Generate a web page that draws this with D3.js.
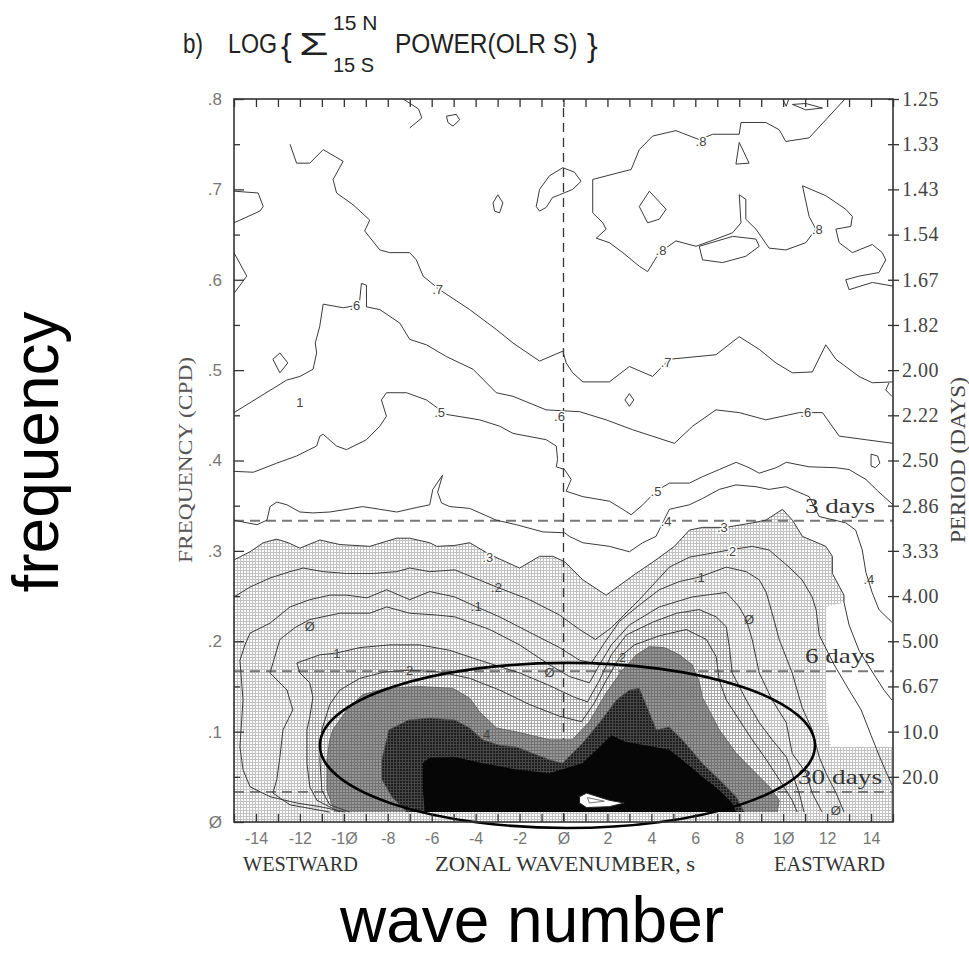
<!DOCTYPE html>
<html><head><meta charset="utf-8">
<script src="https://cdn.jsdelivr.net/npm/d3@7"></script>
<style>body{margin:0;background:#fff}svg{display:block}</style>
</head><body>
<svg id="chart" width="969" height="956"></svg>
<script>
// ---------- axis data ----------
const waveMinorTicks = [-15,-14,-13,-12,-11,-10,-9,-8,-7,-6,-5,-4,-3,-2,-1,0,1,2,3,4,5,6,7,8,9,10,11,12,13,14,15];
const waveTicks = [-14,-12,-10,-8,-6,-4,-2,0,2,4,6,8,10,12,14];
const waveTickLabels = ["-14","-12","-1Ø","-8","-6","-4","-2","Ø","2","4","6","8","1Ø","12","14"];
const freqTicks = [0,0.1,0.2,0.3,0.4,0.5,0.6,0.7,0.8];
const freqTickLabels = ["Ø",".1",".2",".3",".4",".5",".6",".7",".8"];
const freqMinorTicks = [0.05,0.15,0.25,0.35,0.45,0.55,0.65,0.75];
const periodFreqs = [0.05,0.1,0.15,0.2,0.25,0.3,0.35,0.4,0.45,0.5,0.55,0.6,0.65,0.7,0.75,0.8];
const periodLabels = ["20.0","10.0","6.67","5.00","4.00","3.33","2.86","2.50","2.22","2.00","1.82","1.67","1.54","1.43","1.33","1.25"];
const dayFreqs = [0.3333,0.1667,0.0333];
const dayLabels = ["3 days","6 days","30 days"];

// ---------- contour lines [wavenumber, frequency] ----------
const cM8 = [[12.85,.801],[11.94,.777],[11.18,.757],[10.12,.753],[9.82,.766],[9.21,.774],[8.08,.774],[8.0,.761],[6.79,.761],[6.18,.755],[5.12,.765],[4.06,.759],[3.45,.744],[3.08,.722],[1.33,.711],[1.33,.674],[1.79,.663],[1.94,.656],[1.49,.646],[2.09,.641],[2.70,.630],[3.45,.615],[3.83,.609],[4.36,.630],[5.12,.643],[6.03,.637],[6.94,.645],[7.70,.652],[8.08,.663],[8.0,.694],[8.30,.689],[8.30,.667],[8.76,.656],[9.36,.635],[10.12,.633],[11.03,.641],[11.49,.656],[11.18,.670],[10.88,.704],[11.94,.693],[12.85,.678],[13.15,.670],[13.08,.659],[12.40,.656],[12.55,.641],[13.15,.630],[14.06,.639],[14.51,.630],[14.67,.622],[14.36,.608],[13.45,.604],[12.85,.600],[13.0,.589],[14.06,.597],[15,.593]];
const cM8topU = [[9.95,.801],[10.14,.792],[10.27,.801]];
const cM8topArc = [[-7.3,.800],[-6.6,.789],[-6.45,.779],[-7.0,.768]];
const cM7 = [[-12.45,.750],[-12.15,.729],[-11.55,.729],[-10.94,.744],[-10.03,.731],[-10.49,.711],[-10.33,.696],[-9.58,.683],[-8.82,.666],[-9.05,.654],[-8.36,.633],[-7.91,.630],[-7.0,.630],[-6.7,.622],[-6.39,.604],[-5.64,.589],[-4.27,.567],[-3.06,.545],[-2.3,.530],[-1.09,.510],[-0.03,.521],[0.12,.508],[0.42,.497],[0.88,.487],[2.09,.487],[3.0,.504],[4.06,.493],[4.82,.512],[6.94,.517],[8.0,.537],[8.91,.523],[9.67,.508],[10.42,.497],[11.33,.498],[11.94,.528],[12.4,.512],[13.45,.493],[14.06,.486],[15,.487]];
const cM7lobeA = [[-15,.698],[-13.9,.696],[-13.67,.681],[-13.82,.676],[-15,.663]];
const cM7lobeB = [[-15,.630],[-14.42,.604],[-15,.585]];
const cM6 = [[-15,.453],[-12.6,.489],[-12.0,.493],[-11.4,.501],[-11.24,.519],[-11.3,.530],[-11.1,.548],[-10.94,.573],[-10.03,.569],[-9.3,.572],[-9.2,.596],[-8.97,.594],[-8.97,.570],[-8.36,.567],[-7.45,.552],[-7.0,.534],[-6.24,.528],[-5.33,.515],[-4.12,.501],[-3.06,.475],[-2.3,.471],[-1.39,.462],[-0.79,.456],[0.73,.454],[1.94,.445],[3.15,.434],[5.05,.419],[5.88,.438],[6.94,.456],[8.0,.453],[9.21,.445],[10.73,.453],[11.79,.453],[12.55,.427],[13.76,.423],[15,.419]];
const cM6edge = [[14.82,.486],[14.67,.478],[14.95,.471]];
const cM5 = [[-15,.388],[-14.12,.387],[-13.06,.397],[-12.15,.405],[-11.24,.416],[-11.09,.427],[-10.94,.429],[-10.33,.416],[-9.88,.412],[-8.97,.423],[-8.36,.438],[-8.06,.449],[-8.29,.467],[-8.06,.475],[-7.15,.475],[-6.24,.467],[-5.33,.451],[-3.82,.445],[-2.91,.438],[-2.30,.430],[-0.79,.423],[-0.33,.416],[-0.27,.401],[-0.33,.393],[0.05,.390],[0.35,.379],[0.12,.366],[0.88,.360],[2.09,.355],[2.70,.346],[3.08,.340],[3.61,.351],[4.21,.366],[4.82,.375],[5.73,.375],[6.32,.382],[7.09,.390],[7.86,.398],[8.45,.392],[8.91,.386],[9.68,.392],[10.14,.398],[11.18,.393],[12.41,.392],[13.0,.390],[13.77,.379],[14.36,.365],[15,.351]];
const cM4 = [[-15,.334],[-14.41,.331],[-13.95,.329],[-13.5,.334],[-13.36,.349],[-13.05,.354],[-12.59,.351],[-12.0,.343],[-11.41,.342],[-10.64,.343],[-9.86,.346],[-9.14,.349],[-8.36,.346],[-7.59,.343],[-6.68,.348],[-6.09,.351],[-5.95,.368],[-5.5,.384],[-5.73,.365],[-5.55,.353],[-5.18,.349],[-4.27,.347],[-3.06,.334],[-2.15,.329],[-0.94,.321],[0.05,.320],[0.27,.316],[0.88,.309],[2.09,.305],[3.0,.299],[3.6,.309],[4.21,.316],[4.82,.346],[5.73,.351],[6.33,.358],[7.09,.368],[7.85,.373],[8.76,.371],[9.36,.368],[10.12,.371],[11.18,.360],[11.64,.338],[12.85,.331],[13.3,.323],[13.6,.301],[13.77,.276],[14.05,.254],[14.36,.235],[14.95,.221]];
const cM3 = [[-15,.290],[-14.27,.299],[-13.67,.309],[-13.06,.313],[-12.53,.309],[-12.0,.303],[-11.09,.312],[-10.18,.307],[-8.82,.305],[-7.6,.314],[-7.0,.314],[-6.09,.309],[-5.77,.305],[-4.95,.306],[-4.27,.309],[-3.36,.296],[-2.0,.281],[-1.09,.294],[-0.49,.294],[0.05,.288],[0.88,.268],[1.94,.251],[3.3,.275],[4.21,.290],[5.05,.305],[5.73,.323],[6.33,.326],[7.4,.326],[8.6,.331],[9.21,.334],[9.97,.346],[10.42,.334],[10.88,.316],[11.94,.305],[12.24,.294],[12.24,.275],[12.77,.251],[12.77,.243]];
const cM3tail = [[12.77,.243],[13.0,.218],[13.45,.190],[14.14,.163],[14.59,.146],[14.95,.135]];
const stippleNotch = [[11.95,.238],[11.95,.135],[12.18,.083],[15,.083]];
const cM2 = [[-15,.249],[-14.27,.260],[-13.36,.270],[-12.45,.277],[-11.85,.281],[-10.94,.277],[-9.88,.275],[-8.67,.275],[-7.6,.277],[-7.0,.281],[-6.09,.277],[-4.95,.279],[-3.05,.260],[-1.55,.246],[-0.18,.229],[0.73,.213],[1.45,.202],[2.18,.215],[3.45,.246],[4.82,.282],[5.73,.293],[7.55,.301],[8.59,.305],[9.36,.301],[10.27,.282],[10.86,.268],[11.32,.249],[11.5,.235],[11.64,.207],[12.32,.174],[13.0,.146],[13.55,.124],[14.0,.096],[14.36,.074],[14.64,.058],[14.95,.041]];
const cM1 = [[-9.95,.011],[-11.09,.017],[-12.14,.021],[-13.36,.028],[-14.27,.039],[-14.59,.058],[-14.73,.083],[-14.59,.135],[-14.73,.179],[-14.5,.196],[-14.27,.209],[-13.36,.220],[-12.45,.238],[-11.55,.246],[-10.64,.251],[-9.86,.251],[-8.95,.248],[-8.05,.257],[-7.0,.246],[-6.09,.255],[-4.95,.249],[-3.95,.238],[-2.91,.227],[-1.55,.210],[-0.18,.193],[0.73,.179],[1.27,.176],[1.86,.198],[2.55,.222],[3.45,.240],[4.36,.257],[5.27,.266],[6.18,.271],[7.41,.282],[8.32,.277],[8.91,.268],[9.23,.254],[9.5,.231],[9.82,.202],[10.41,.165],[10.86,.127],[11.32,.102],[11.64,.072],[11.95,.054],[12.41,.032],[12.77,.011]];
const c0 = [[-10.64,.011],[-12.45,.019],[-13.23,.032],[-13.05,.047],[-12.91,.072],[-12.77,.102],[-12.32,.124],[-12.59,.146],[-13.36,.165],[-12.91,.202],[-12.23,.215],[-11.55,.224],[-10.18,.231],[-8.82,.231],[-8.05,.238],[-7.0,.231],[-5.77,.229],[-4.95,.227],[-3.36,.213],[-2.0,.196],[-0.64,.174],[0.27,.161],[1.18,.154],[1.64,.174],[2.18,.196],[3.0,.218],[4.36,.238],[5.86,.249],[7.41,.254],[8.0,.238],[8.32,.224],[8.59,.202],[8.91,.165],[9.5,.135],[10.14,.110],[10.41,.076],[11.05,.054],[11.32,.032],[11.77,.011]];
const cP1 = [[-10.18,.011],[-11.23,.024],[-11.55,.039],[-11.68,.065],[-11.68,.102],[-11.55,.116],[-11.41,.138],[-11.55,.154],[-12.0,.165],[-12.14,.176],[-11.09,.185],[-10.32,.187],[-9.27,.193],[-7.91,.196],[-6.55,.196],[-5.18,.190],[-3.82,.179],[-2.0,.165],[-0.64,.151],[0.5,.138],[1.09,.133],[1.64,.157],[2.18,.185],[2.86,.207],[4.05,.221],[5.14,.231],[6.18,.235],[6.95,.227],[7.41,.216],[7.55,.194],[7.68,.165],[8.32,.135],[8.91,.110],[9.5,.091],[10.14,.072],[10.41,.054],[10.73,.032],[10.95,.011]];
const cP2 = [[-9.73,.011],[-10.64,.019],[-11.0,.035],[-11.09,.069],[-11.0,.102],[-10.64,.130],[-10.18,.146],[-9.27,.159],[-8.14,.166],[-7.0,.168],[-5.64,.166],[-4.27,.159],[-2.91,.146],[-1.55,.130],[-0.18,.117],[0.82,.111],[1.41,.132],[1.95,.157],[2.55,.182],[3.23,.196],[4.36,.206],[5.59,.213],[6.5,.202],[6.95,.183],[7.09,.157],[7.41,.135],[8.0,.113],[8.59,.091],[9.23,.069],[9.82,.047],[10.41,.024],[10.64,.011]];
const cP3 = [[-10.41,.011],[-10.77,.035],[-10.77,.069],[-10.64,.091],[-10.5,.102],[-9.86,.124],[-9.14,.141],[-8.05,.148],[-6.68,.150],[-5.05,.148],[-4.27,.137],[-3.82,.122],[-3.05,.104],[-2.0,.099],[-0.64,.091],[0.41,.091],[1.18,.111],[1.95,.143],[2.68,.168],[3.32,.185],[3.91,.194],[4.59,.193],[5.27,.185],[5.86,.174],[6.18,.155],[6.32,.138],[7.09,.102],[7.86,.076],[8.59,.058],[9.36,.039],[9.82,.024],[9.73,.011]];
const cP4 = [[-7.14,.011],[-7.82,.028],[-8.27,.047],[-8.27,.069],[-7.95,.102],[-7.05,.113],[-6.09,.115],[-4.95,.113],[-4.27,.104],[-3.68,.091],[-2.91,.085],[-2.14,.083],[-0.64,.069],[-0.05,.065],[0.86,.087],[1.64,.110],[2.41,.135],[3.0,.146],[3.45,.148],[3.91,.121],[4.23,.102],[4.82,.105],[5.41,.091],[6.32,.065],[7.09,.047],[7.86,.028],[8.23,.011]];
const cP5 = [[-6.32,.011],[-6.41,.039],[-6.41,.065],[-6.09,.071],[-4.95,.072],[-3.68,.065],[-2.14,.058],[-0.64,.054],[0.86,.065],[1.64,.083],[2.18,.096],[2.77,.089],[3.68,.085],[4.82,.080],[5.59,.065],[6.32,.050],[7.09,.035],[7.68,.021],[7.86,.011]];
const cP6 = [[0.73,.028],[1.05,.032],[2.09,.024],[2.77,.021],[2.09,.017],[1.05,.016],[0.73,.021]];
const cP6inner = [[1.09,.027],[1.86,.023],[1.18,.021]];

// closed small loops
const loopA = [[3.91,.698],[4.67,.678],[4.36,.667],[3.83,.663],[3.45,.681]];
const loopB = [[6.18,.637],[7.70,.648],[8.76,.645],[8.91,.637],[8.30,.626],[7.24,.619],[6.33,.622]];
const loopC = [[8.0,.752],[8.45,.729],[7.85,.728]];
const loopD = [[10.42,.794],[11.03,.788],[11.79,.790],[11.03,.795]];
const loopE = [[-1.24,.681],[-1.09,.700],[-0.64,.715],[-0.03,.724],[0.5,.719],[0.80,.709],[0.42,.700],[-0.18,.694],[-0.5,.691],[-0.79,.680],[-1.09,.676]];
const loopF = [[-3.21,.685],[-2.99,.694],[-2.76,.685],[-2.91,.674],[-3.14,.676]];
const loopG = [[-5.33,.781],[-4.88,.783],[-4.73,.777],[-5.03,.770],[-5.26,.774]];
const loopH = [[-13.23,.512],[-12.91,.519],[-12.55,.508],[-12.91,.497]];
const loopI = [[3.0,.474],[3.2,.467],[3.0,.460],[2.8,.467]];
const loopJ = [[14.0,.407],[14.3,.405],[14.4,.397],[14.2,.392],[14.0,.394]];

// contour labels [wavenumber, frequency, text]
const contourLabels = [[6.26,.753,".8"],[4.44,.632,".8"],[11.56,.656,".8"],[-5.73,.589,".7"],[4.67,.508,".7"],[-9.5,.572,".6"],[-0.18,.449,".6"],[11.03,.453,".6"],[-5.64,.453,".5"],[4.21,.366,".5"],[4.67,.333,".4"],[13.9,.268,".4"],[-3.45,.293,".3"],[7.23,.326,".3"],[-3.05,.260,".2"],[7.62,.299,".2"],[-3.97,.238,".1"],[6.18,.271,".1"],[-11.55,.216,"Ø"],[-0.64,.165,"Ø"],[8.45,.224,"Ø"],[12.4,.013,"Ø"],[-10.32,.187,"1"],[-7.0,.168,"2"],[-3.5,.097,"4"],[2.68,.182,"2"],[-12.0,.464,"1"]];

// annotation ellipse: centre and half-axes in data units
const ellipseCentre = [0.18, 0.0847];
const ellipseHalfAxes = [11.27, 0.0914];

// ---------- drawing ----------
const svg = d3.select("#chart");
const x = d3.scaleLinear().domain([-15,15]).range([234,893]);
const y = d3.scaleLinear().domain([0,0.8]).range([822,99]);
const line = d3.line().x(d=>x(d[0])).y(d=>y(d[1]));

const defs = svg.append("defs");
function pat(id,bg,fg){
  const p = defs.append("pattern").attr("id",id).attr("width",3).attr("height",3).attr("patternUnits","userSpaceOnUse");
  p.append("rect").attr("width",3).attr("height",3).attr("fill",bg);
  p.append("path").attr("d","M0 0.5H3M0.5 0V3").attr("stroke",fg).attr("stroke-width",1);
}
pat("p1","#ffffff","#c2c2c2");
pat("p2","#ffffff","#a9a9a9");
pat("p3","#989898","#727272");
pat("p4","#1e1e1e","#464646");
defs.append("clipPath").attr("id","clip").append("rect")
  .attr("x",x(-15)).attr("y",y(0.8)).attr("width",x(15)-x(-15)).attr("height",y(0)-y(0.8));

const plot = svg.append("g").attr("clip-path","url(#clip)");

// shaded regions
const stipplePoly = [[-15,0]].concat(cM3, stippleNotch, [[15,0]]);
plot.append("path").attr("d",line(stipplePoly)+"Z").attr("fill","url(#p1)");
plot.append("path").attr("d",line(cP1)+"Z").attr("fill","url(#p2)");

// reference dashed lines (under darker fills)
const dashG = plot.append("g");
dashG.selectAll("line.day").data(dayFreqs).join("line")
  .attr("x1",x(-15)).attr("x2",x(15)).attr("y1",d=>y(d)).attr("y2",d=>y(d))
  .attr("stroke","#777").attr("stroke-width",2).attr("stroke-dasharray","10,6");
dashG.append("line").attr("x1",x(0)).attr("x2",x(0)).attr("y1",y(0)).attr("y2",y(0.8))
  .attr("stroke","#333").attr("stroke-width",1.3).attr("stroke-dasharray","9,6");

plot.append("path").attr("d",line(cP3)+"Z").attr("fill","url(#p3)");
plot.append("path").attr("d",line(cP4)+"Z").attr("fill","url(#p4)");
plot.append("path").attr("d",line(cP5)+"Z").attr("fill","#060606");
plot.append("path").attr("d",line(cP6)+"Z").attr("fill","#fff").attr("stroke","#222").attr("stroke-width",1);
plot.append("path").attr("d",line(cP6inner)+"Z").attr("fill","none").attr("stroke","#555").attr("stroke-width",0.8);

// contour lines
const openLines = [cM8,cM8topU,cM8topArc,cM7,cM7lobeA,cM7lobeB,cM6,cM6edge,cM5,cM4,cM3,cM3tail,cM2,cM1,c0,cP1,cP2];
plot.selectAll("path.cl").data(openLines).join("path").attr("class","cl")
  .attr("d",d=>line(d)).attr("fill","none").attr("stroke","#3a3a3a").attr("stroke-width",1);
const loops = [loopA,loopB,loopC,loopD,loopE,loopF,loopG,loopH,loopI,loopJ];
plot.selectAll("path.lp").data(loops).join("path").attr("class","lp")
  .attr("d",d=>line(d)+"Z").attr("fill","none").attr("stroke","#3a3a3a").attr("stroke-width",1);
[cP3,cP4].forEach(c=>plot.append("path").attr("d",line(c)).attr("fill","none").attr("stroke","#5a5a5a").attr("stroke-width",0.8));

// contour labels
plot.selectAll("text.lab").data(contourLabels).join("text").attr("class","lab")
  .attr("x",d=>x(d[0])).attr("y",d=>y(d[1])).attr("dy","0.35em")
  .attr("text-anchor","middle").attr("font-family","Liberation Sans, Arial, sans-serif")
  .attr("font-size",13).attr("fill","#444")
  .attr("stroke",d=>d[1]>0.28?"#fff":"none").attr("stroke-width",3).attr("paint-order","stroke")
  .text(d=>d[2]);

// day labels
svg.selectAll("text.day").data(dayFreqs).join("text").attr("class","day")
  .attr("x",(d,i)=>i===2?798:805).attr("y",d=>y(d)-8)
  .attr("font-family","Liberation Serif, Times New Roman, serif").attr("font-size",21).attr("fill","#333")
  .attr("textLength",(d,i)=>i===2?84:70).attr("lengthAdjust","spacingAndGlyphs")
  .text((d,i)=>dayLabels[i]);

// annotation ellipse
svg.append("ellipse")
  .attr("cx",x(ellipseCentre[0])).attr("cy",y(ellipseCentre[1]))
  .attr("rx",x(ellipseHalfAxes[0])-x(0)).attr("ry",y(0)-y(ellipseHalfAxes[1]))
  .attr("fill","none").attr("stroke","#000").attr("stroke-width",2.6);

// axes
function styleAxis(g){ g.select(".domain").remove(); g.selectAll(".tick line").attr("stroke","#333").attr("stroke-width",1.3); }
svg.append("g").attr("transform",`translate(${x(-15)},0)`)
  .call(d3.axisLeft(y).tickValues(freqTicks).tickSize(-10).tickPadding(12).tickFormat((d,i)=>freqTickLabels[i]))
  .call(styleAxis)
  .call(g=>g.selectAll("text").attr("font-family","Liberation Sans, Arial, sans-serif").attr("font-size",17).attr("fill","#777"));
svg.append("g").attr("transform",`translate(${x(-15)},0)`)
  .call(d3.axisLeft(y).tickValues(freqMinorTicks).tickSize(-6).tickFormat(""))
  .call(styleAxis);
svg.append("g").attr("transform",`translate(${x(15)},0)`)
  .call(d3.axisRight(y).tickValues(periodFreqs).tickSize(6).tickPadding(3).tickFormat((d,i)=>periodLabels[i]))
  .call(styleAxis)
  .call(g=>g.selectAll("text").attr("font-family","Liberation Serif, Times New Roman, serif").attr("font-size",20).attr("fill","#444").attr("letter-spacing","0.5px"));
svg.append("g").attr("transform",`translate(${x(15)},0)`)
  .call(d3.axisRight(y).tickValues(periodFreqs).tickSize(-5).tickFormat(""))
  .call(styleAxis);
svg.append("g").attr("transform",`translate(0,${y(0.8)})`)
  .call(d3.axisTop(x).tickValues(waveMinorTicks).tickSize(-8).tickFormat(""))
  .call(styleAxis);
svg.append("g").attr("transform",`translate(0,${y(0)})`)
  .call(d3.axisBottom(x).tickValues(waveMinorTicks).tickSize(-8).tickFormat(""))
  .call(styleAxis);
svg.append("g").attr("transform",`translate(0,${y(0)})`)
  .call(d3.axisBottom(x).tickValues(waveTicks).tickSize(0).tickPadding(11).tickFormat((d,i)=>waveTickLabels[i]))
  .call(g=>g.select(".domain").remove())
  .call(g=>g.selectAll("text").attr("font-family","Liberation Sans, Arial, sans-serif").attr("font-size",16).attr("fill","#777"));

// frame
svg.append("rect").attr("x",x(-15)).attr("y",y(0.8)).attr("width",x(15)-x(-15)).attr("height",y(0)-y(0.8))
  .attr("fill","none").attr("stroke","#333").attr("stroke-width",1.6);

// axis titles
const serif = "Liberation Serif, Times New Roman, serif";
svg.append("text").attr("transform","translate(192,460) rotate(-90)").attr("text-anchor","middle")
  .attr("font-family",serif).attr("font-size",19).attr("fill","#555")
  .attr("textLength",206).attr("lengthAdjust","spacingAndGlyphs").text("FREQUENCY (CPD)");
svg.append("text").attr("transform","translate(965,460) rotate(-90)").attr("text-anchor","middle")
  .attr("font-family",serif).attr("font-size",20).attr("fill","#444")
  .attr("textLength",166).attr("lengthAdjust","spacingAndGlyphs").text("PERIOD (DAYS)");
[["WESTWARD",243,115],["ZONAL WAVENUMBER, s",435,260],["EASTWARD",774,111]].forEach(t=>{
  svg.append("text").attr("x",t[1]).attr("y",871).attr("font-family",serif).attr("font-size",21).attr("fill","#333")
    .attr("textLength",t[2]).attr("lengthAdjust","spacingAndGlyphs").text(t[0]);
});

// title (condensed with horizontal scaling)
const sans = "Liberation Sans, Arial, Helvetica, sans-serif";
[["b)",183,53,28,0.8],["LOG",228,53,28,0.83],["{",281,56,32,1],["Σ",299,55,31,1.55],["15 N",333,30,20,1.05],["15 S",333,72,20,1.0],["POWER(OLR S)",395,53,28,0.875],["}",587,56,32,1]].forEach(t=>{
  svg.append("text").attr("transform",`translate(${t[1]},${t[2]}) scale(${t[4]},1)`)
    .attr("font-family",sans).attr("font-size",t[3]).attr("fill","#222").text(t[0]);
});

// big labels
svg.append("text").attr("transform","translate(58,452) rotate(-90)").attr("text-anchor","middle")
  .attr("font-family",sans).attr("font-size",64).attr("fill","#000").text("frequency");
svg.append("text").attr("x",532).attr("y",942).attr("text-anchor","middle")
  .attr("font-family",sans).attr("font-size",64).attr("fill","#000").text("wave number");
</script>
</body></html>
